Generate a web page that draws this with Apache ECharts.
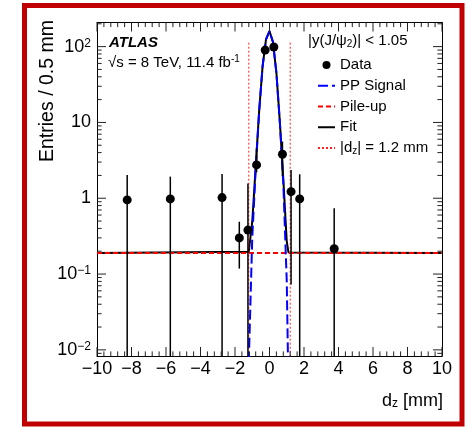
<!DOCTYPE html>
<html>
<head>
<meta charset="utf-8">
<script src="https://cdn.jsdelivr.net/npm/echarts@6/dist/echarts.min.js"></script>
<style>html,body{margin:0;padding:0;background:#fff}#c{width:470px;height:427px}</style>
</head>
<body>
<div id="c"></div>
<script>
// ---- data ----
const dataX = [-8.25, -5.75, -2.75, -1.75, -1.25, -0.75, -0.25, 0.25, 0.75, 1.25, 1.75, 3.75];
const dataY = [0.95, 0.98, 1.02, 0.30, 0.38, 2.75, 90, 99, 3.8, 1.22, 0.98, 0.216];
const dataErrLow = [0, 0, 0, 0.118, 0, 2.2, 81, 89, 1.95, 0.073, 0, 0];
const dataErrHigh = [2.03, 1.93, 2.09, 0.49, 1.57, 4.55, 99, 109, 5.6, 2.36, 2.07, 0.74];

const signalX = [-1.2, -1.0, -0.8, -0.6, -0.4, -0.2, 0.0, 0.2, 0.4, 0.6, 0.8, 1.0, 1.1];
const signalY = [0.007, 0.3, 2.4, 14, 55, 125, 160, 115, 45, 10, 1.6, 0.08, 0.003];

const fitX = [-10, -1.2, -1.0, -0.8, -0.6, -0.4, -0.2, 0.0, 0.2, 0.4, 0.6, 0.8, 1.0, 1.1, 1.2, 10];
const fitY = [0.19, 0.197, 0.49, 2.59, 14.2, 55.2, 125.2, 160.2, 115.2, 45.2, 10.2, 1.79, 0.27, 0.193, 0.19, 0.19];

const pileupX = [-10, 10];
const pileupY = [0.19, 0.19];

const cutX = [-1.2, 1.2];
const cutYRange = [0.005, 119];

const xTickValues = [-10, -8, -6, -4, -2, 0, 2, 4, 6, 8, 10];
const xTickLabels = ['−10', '−8', '−6', '−4', '−2', '0', '2', '4', '6', '8', '10'];
const xMinorStep = 0.4;
const yTickValues = [0.01, 0.1, 1, 10, 100];
const yTickExp = [-2, -1, 0, 1, 2];
const yTickBase = ['10', '10', '1', '10', '10'];
const yTickSup = ['−2', '−1', '', '', '2'];
const yMinorTicks = [0.009, 0.02, 0.03, 0.04, 0.05, 0.06, 0.07, 0.08, 0.09,
  0.2, 0.3, 0.4, 0.5, 0.6, 0.7, 0.8, 0.9, 2, 3, 4, 5, 6, 7, 8, 9,
  20, 30, 40, 50, 60, 70, 80, 90, 200];

const legendNames = ['Data', 'PP Signal', 'Pile-up', 'Fit', '|dz| = 1.2 mm'];

// ---- chart ----
const FONT = 'Liberation Sans';
const chart = echarts.init(document.getElementById('c'), null, {renderer: 'canvas'});
const Y_MIN = 0.0083, Y_MAX = 208;
const X_MIN = -10, X_MAX = 10;
const MAJOR = 9, MINOR = 4.6;

function pairs(xs, ys) { return xs.map((x, i) => [x, ys[i]]); }

const xMinorTicks = [];
for (let k = 0; k <= 50; k++) {
  const v = X_MIN + k * xMinorStep;
  if (Math.abs(v / 2 - Math.round(v / 2)) > 1e-6) xMinorTicks.push(+v.toFixed(2));
}

// tick items: [x, y, length, side]; side 0=left,1=right,2=bottom,3=top
const tickItems = [];
yTickValues.forEach(v => { tickItems.push([X_MIN, v, MAJOR, 0], [X_MAX, v, MAJOR, 1]); });
yMinorTicks.forEach(v => { tickItems.push([X_MIN, v, MINOR, 0], [X_MAX, v, MINOR, 1]); });
xTickValues.forEach(v => { tickItems.push([v, Y_MIN, MAJOR, 2], [v, Y_MAX, MAJOR, 3]); });
xMinorTicks.forEach(v => { tickItems.push([v, Y_MIN, MINOR, 2], [v, Y_MAX, MINOR, 3]); });

const baseX = {
  type: 'value', min: X_MIN, max: X_MAX, interval: 2,
  axisLine: {show: true, onZero: false, lineStyle: {color: '#000', width: 1}},
  axisTick: {show: false},
  minorTick: {show: false},
  splitLine: {show: false}
};
const baseY = {
  type: 'log', logBase: 10, min: Y_MIN, max: Y_MAX,
  axisLine: {show: true, onZero: false, lineStyle: {color: '#000', width: 1}},
  axisTick: {show: false},
  splitLine: {show: false}
};

const legendLineItem = name => ({name: name, itemStyle: {opacity: 0}});

const baseGraphic = [
  {type: 'rect', shape: {x: 24.5, y: 5.5, width: 437.5, height: 418.5},
    style: {fill: 'none', stroke: '#c00000', lineWidth: 5}, z: 100},
  {type: 'text', x: 109, y: 42.5,
    style: {text: 'ATLAS', fontSize: 15, fontWeight: 'bold', fontStyle: 'italic', fontFamily: FONT, fill: '#000', verticalAlign: 'middle'}},
  {type: 'text', x: 108, y: 62,
    style: {text: '{m|√s = 8 TeV, 11.4 fb}{sup|-1}', verticalAlign: 'middle', fill: '#000',
      rich: {m: {fontSize: 15, lineHeight: 16, verticalAlign: 'bottom', fontFamily: FONT},
             sup: {fontSize: 10, lineHeight: 8, verticalAlign: 'top', fontFamily: FONT}}}},
  {type: 'text', x: 308, y: 41,
    style: {text: '{m||y(J/ψ}{sub|2}{m|)| < 1.05}', verticalAlign: 'middle', fill: '#000',
      rich: {m: {fontSize: 15, lineHeight: 16, verticalAlign: 'top', fontFamily: FONT},
             sub: {fontSize: 10, lineHeight: 8, verticalAlign: 'bottom', fontFamily: FONT}}}},
  {type: 'text', x: 47.5, y: 91, rotation: Math.PI / 2,
    style: {text: 'Entries / 0.5 mm', fontSize: 19.5, fontFamily: FONT, fill: '#000', align: 'center', verticalAlign: 'middle'}},
  {type: 'text', x: 443, y: 401,
    style: {text: '{m|d}{sub|z}{m| [mm]}', align: 'right', verticalAlign: 'middle', fill: '#000',
      rich: {m: {fontSize: 18, lineHeight: 18, verticalAlign: 'top', fontFamily: FONT},
             sub: {fontSize: 12, lineHeight: 8, verticalAlign: 'bottom', fontFamily: FONT}}}}
];

const option = {
  animation: false,
  backgroundColor: '#fff',
  textStyle: {fontFamily: FONT},
  grid: {left: 97, top: 22.5, width: 345, height: 333.5},
  xAxis: [
    Object.assign({}, baseX, {
      position: 'bottom',
      axisLabel: {
        show: true, margin: 4, fontSize: 18, color: '#000', fontFamily: FONT,
        formatter: v => { const i = xTickValues.indexOf(Math.round(v)); return i >= 0 ? xTickLabels[i] : ''; }
      }
    }),
    Object.assign({}, baseX, {position: 'top', axisLabel: {show: false}})
  ],
  yAxis: [
    Object.assign({}, baseY, {
      position: 'left',
      axisLabel: {
        show: true, margin: 6, fontSize: 18, color: '#000', fontFamily: FONT,
        showMinLabel: false, showMaxLabel: false,
        formatter: v => {
          const e = Math.round(Math.log10(v)); const i = yTickExp.indexOf(e);
          if (i < 0) return '';
          return '{m|' + yTickBase[i] + '}' + (yTickSup[i] ? '{sup|' + yTickSup[i] + '}' : '');
        },
        rich: {
          m: {fontSize: 18, lineHeight: 18, verticalAlign: 'bottom', fontFamily: FONT, color: '#000'},
          sup: {fontSize: 12, lineHeight: 8, verticalAlign: 'top', fontFamily: FONT, color: '#000'}
        }
      }
    }),
    Object.assign({}, baseY, {position: 'right', axisLabel: {show: false}})
  ],
  legend: {
    orient: 'vertical', left: 312, top: 52,
    itemWidth: 17, itemHeight: 8, itemGap: 4.75,
    selectedMode: false,
    data: [
      {name: legendNames[0], icon: 'circle', itemStyle: {opacity: 1}},
      legendLineItem(legendNames[1]), legendLineItem(legendNames[2]),
      legendLineItem(legendNames[3]), legendLineItem(legendNames[4])
    ],
    textStyle: {
      fontSize: 15, lineHeight: 16, color: '#000', fontFamily: FONT,
      rich: {
        m: {fontSize: 15, lineHeight: 16, verticalAlign: 'top', color: '#000', fontFamily: FONT},
        sub: {fontSize: 10, lineHeight: 8, verticalAlign: 'bottom', color: '#000', fontFamily: FONT}
      }
    },
    formatter: name => name === legendNames[4] ? '{m||d}{sub|z}{m|| = 1.2 mm}' : name
  },
  graphic: baseGraphic,
  series: [
    {
      name: legendNames[3], type: 'line', symbol: 'none', z: 2,
      data: pairs(fitX, fitY),
      lineStyle: {color: '#000', width: 2}, itemStyle: {color: '#000'}
    },
    {
      name: legendNames[2], type: 'line', symbol: 'none', z: 3,
      data: pairs(pileupX, pileupY),
      lineStyle: {color: '#ff0000', width: 2, type: [5, 3]}, itemStyle: {color: '#ff0000'}
    },
    {
      name: legendNames[1], type: 'line', symbol: 'none', z: 4,
      data: pairs(signalX, signalY),
      lineStyle: {color: '#0000ff', width: 2, type: [10, 4]}, itemStyle: {color: '#0000ff'}
    },
    {
      name: legendNames[4], type: 'line', symbol: 'none', z: 3,
      data: [[cutX[0], cutYRange[0]], [cutX[0], cutYRange[1]]],
      lineStyle: {color: '#ff2020', width: 1, type: [2, 2]}, itemStyle: {color: '#ff2020'}
    },
    {
      name: legendNames[4], type: 'line', symbol: 'none', z: 3,
      data: [[cutX[1], cutYRange[0]], [cutX[1], cutYRange[1]]],
      lineStyle: {color: '#ff2020', width: 1, type: [2, 2]}, itemStyle: {color: '#ff2020'}
    },
    {
      name: 'dataErr', type: 'custom', z: 5, silent: true,
      data: dataX.map((x, i) => [x, dataY[i], dataErrLow[i], dataErrHigh[i]]),
      renderItem: (params, api) => {
        const x = api.value(0), lo = api.value(2), hi = api.value(3);
        const top = api.coord([x, hi]);
        const bottomY = lo > 0 ? api.coord([x, lo])[1] : params.coordSys.y + params.coordSys.height;
        return {type: 'line', shape: {x1: top[0], y1: top[1], x2: top[0], y2: bottomY},
          style: {stroke: '#000', lineWidth: 1.5}};
      }
    },
    {
      name: legendNames[0], type: 'scatter', z: 6,
      symbol: 'circle', symbolSize: 9,
      data: pairs(dataX, dataY),
      itemStyle: {color: '#000', opacity: 1}
    }
  ]
};
chart.setOption(option);

// axis ticks placed through the chart's own scales (convertToPixel)
const tickGraphics = tickItems.map(t => {
  const p = chart.convertToPixel({seriesIndex: 0}, [t[0], t[1]]);
  const len = t[2], side = t[3];
  const dx = side === 0 ? len : side === 1 ? -len : 0;
  const dy = side === 2 ? -len : side === 3 ? len : 0;
  return {type: 'line', silent: true, z: 50,
    shape: {x1: p[0], y1: p[1], x2: p[0] + dx, y2: p[1] + dy},
    style: {stroke: '#222', lineWidth: 1}};
});
chart.setOption({graphic: baseGraphic.concat(tickGraphics)});
</script>
</body>
</html>
